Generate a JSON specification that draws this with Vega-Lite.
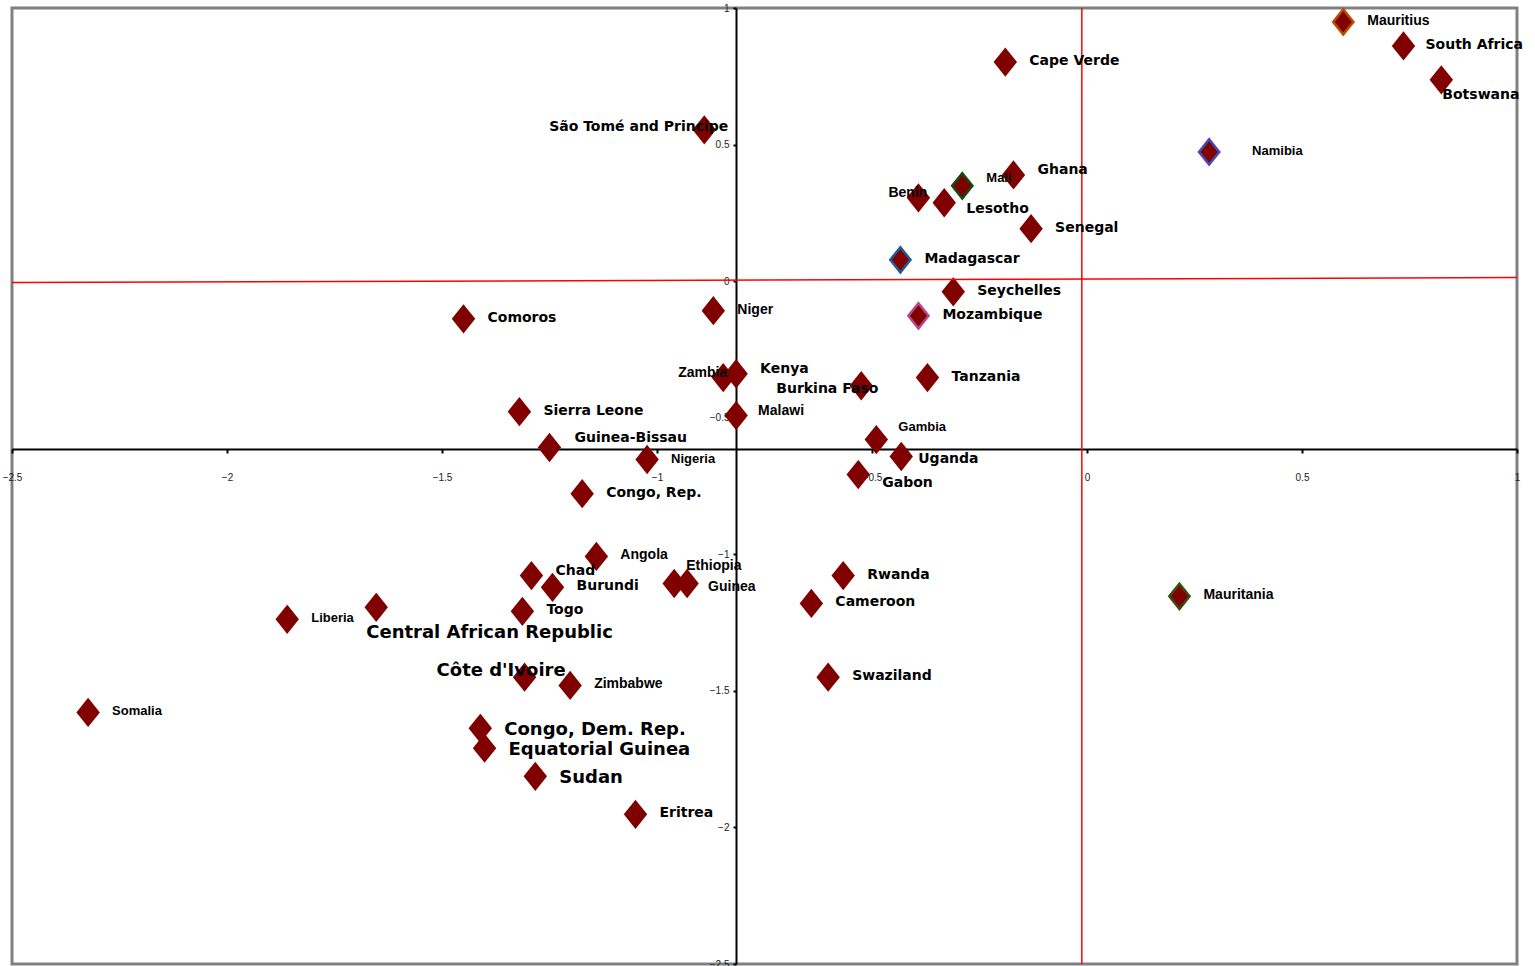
{
  "$schema": "https://vega.github.io/schema/vega-lite/v6.json",
  "autosize": {"type": "none"},
  "padding": {"left": 12, "top": 8, "right": 18, "bottom": 2},
  "width": 1505,
  "height": 956,
  "background": "white",
  "config": {"view": {"stroke": "#808080", "strokeWidth": 3}},
  "datasets": {
    "refs": [
      {"x": -0.012, "y": -2.5, "x2": -0.012, "y2": 1},
      {"x": -2.5, "y": -0.005, "x2": 1, "y2": 0.013}
    ],
    "countries": [
      {"country": "Mauritius", "x": 0.596, "y": 0.949},
      {"country": "South Africa", "x": 0.736, "y": 0.861},
      {"country": "Botswana", "x": 0.824, "y": 0.737},
      {"country": "Cape Verde", "x": -0.19, "y": 0.802},
      {"country": "São Tomé and Principe", "x": -0.89, "y": 0.554},
      {"country": "Namibia", "x": 0.284, "y": 0.473},
      {"country": "Ghana", "x": -0.171, "y": 0.389},
      {"country": "Mali", "x": -0.29, "y": 0.349},
      {"country": "Benin", "x": -0.392, "y": 0.305},
      {"country": "Lesotho", "x": -0.332, "y": 0.287},
      {"country": "Senegal", "x": -0.13, "y": 0.192},
      {"country": "Madagascar", "x": -0.434, "y": 0.078},
      {"country": "Seychelles", "x": -0.311, "y": -0.039},
      {"country": "Mozambique", "x": -0.392, "y": -0.127},
      {"country": "Niger", "x": -0.869, "y": -0.108},
      {"country": "Comoros", "x": -1.45, "y": -0.138},
      {"country": "Zambia", "x": -0.846, "y": -0.353},
      {"country": "Kenya", "x": -0.816, "y": -0.339},
      {"country": "Burkina Faso", "x": -0.525, "y": -0.383},
      {"country": "Tanzania", "x": -0.371, "y": -0.353},
      {"country": "Sierra Leone", "x": -1.32, "y": -0.478},
      {"country": "Malawi", "x": -0.816, "y": -0.492},
      {"country": "Gambia", "x": -0.49, "y": -0.58},
      {"country": "Guinea-Bissau", "x": -1.25, "y": -0.609},
      {"country": "Nigeria", "x": -1.023, "y": -0.653},
      {"country": "Uganda", "x": -0.432, "y": -0.642},
      {"country": "Gabon", "x": -0.532, "y": -0.708},
      {"country": "Congo, Rep.", "x": -1.174, "y": -0.778},
      {"country": "Angola", "x": -1.141, "y": -1.008},
      {"country": "Chad", "x": -1.292, "y": -1.078},
      {"country": "Burundi", "x": -1.243, "y": -1.121},
      {"country": "Ethiopia", "x": -0.96, "y": -1.107},
      {"country": "Guinea", "x": -0.93, "y": -1.107},
      {"country": "Rwanda", "x": -0.567, "y": -1.078},
      {"country": "Cameroon", "x": -0.641, "y": -1.18},
      {"country": "Mauritania", "x": 0.215, "y": -1.154},
      {"country": "Liberia", "x": -1.86, "y": -1.238},
      {"country": "Central African Republic", "x": -1.653, "y": -1.194},
      {"country": "Togo", "x": -1.313, "y": -1.209},
      {"country": "Côte d'Ivoire", "x": -1.308, "y": -1.45},
      {"country": "Zimbabwe", "x": -1.202, "y": -1.48},
      {"country": "Swaziland", "x": -0.602, "y": -1.45},
      {"country": "Somalia", "x": -2.323, "y": -1.579},
      {"country": "Congo, Dem. Rep.", "x": -1.411, "y": -1.637},
      {"country": "Equatorial Guinea", "x": -1.401, "y": -1.71},
      {"country": "Sudan", "x": -1.283, "y": -1.813},
      {"country": "Eritrea", "x": -1.05, "y": -1.952}
    ]
  },
  "layer": [
    {
      "data": {"name": "countries"},
      "mark": {"type": "point", "shape": "M0,-1L0.8,0L0,1L-0.8,0Z", "size": 640, "filled": true, "fill": "#800000", "strokeWidth": 2.5, "opacity": 1},
      "encoding": {
        "x": {"field": "x", "type": "quantitative", "scale": {"domain": [-2.5, 1], "nice": false, "zero": false},
          "axis": {"values": [-2.5, -2, -1.5, -1, -0.5, 0, 0.5, 1], "format": "~g", "offset": -515, "grid": false, "title": null,
            "domainColor": "black", "domainWidth": 2, "tickColor": "black", "tickWidth": 2, "tickSize": 4,
            "labelPadding": 19, "labelFontSize": 10, "labelFont": "Liberation Sans", "labelColor": "#222",
            "labelFlush": false, "labelOverlap": false, "zindex": 0}},
        "y": {"field": "y", "type": "quantitative", "scale": {"domain": [-2.5, 1], "nice": false, "zero": false},
          "axis": {"values": [-2.5, -2, -1.5, -1, -0.5, 0, 0.5, 1], "format": "~g", "offset": -724, "grid": false, "title": null,
            "domainColor": "black", "domainWidth": 2, "tickColor": "black", "tickWidth": 2, "tickSize": 3,
            "labelPadding": 4, "labelFontSize": 10, "labelFont": "Liberation Sans", "labelColor": "#222",
            "labelFlush": false, "labelOverlap": false, "zindex": 0}},
        "stroke": {"condition": [
          {"test": "datum.country === 'Mauritius'", "value": "#b84c00"},
          {"test": "datum.country === 'Namibia'", "value": "#4848b8"},
          {"test": "datum.country === 'Mali'", "value": "#124a12"},
          {"test": "datum.country === 'Madagascar'", "value": "#1f5c99"},
          {"test": "datum.country === 'Mozambique'", "value": "#b8488a"},
          {"test": "datum.country === 'Mauritania'", "value": "#3b4d12"}
        ], "value": "#800000"}
      }
    },
    {
      "data": {"name": "refs"},
      "mark": {"type": "rule", "color": "#ff0000", "strokeWidth": 1.5},
      "encoding": {
        "x": {"field": "x", "type": "quantitative"},
        "y": {"field": "y", "type": "quantitative"},
        "x2": {"field": "x2"},
        "y2": {"field": "y2"}
      }
    },
    {
      "data": {"name": "countries"},
      "encoding": {
        "x": {"field": "x", "type": "quantitative"},
        "y": {"field": "y", "type": "quantitative"},
        "text": {"field": "country"}
      },
      "layer": [
        {
          "transform": [{"filter": {"field": "country", "oneOf": ["Cape Verde", "Senegal", "Madagascar", "Seychelles", "Mozambique", "Comoros", "Tanzania", "Sierra Leone", "Congo, Rep.", "Burundi", "Togo", "Rwanda", "Cameroon", "Swaziland", "Eritrea"]}}],
          "mark": {"type": "text", "align": "left", "baseline": "middle", "dx": 24, "dy": -1, "font": "DejaVu Sans", "fontWeight": "bold", "fontSize": 14, "color": "#000"}
        },
        {
          "transform": [{"filter": {"field": "country", "oneOf": ["South Africa"]}}],
          "mark": {"type": "text", "align": "left", "baseline": "middle", "dx": 22, "dy": -1, "font": "DejaVu Sans", "fontWeight": "bold", "fontSize": 14, "color": "#000"}
        },
        {
          "transform": [{"filter": {"field": "country", "oneOf": ["Chad", "Ghana", "Kenya"]}}],
          "mark": {"type": "text", "align": "left", "baseline": "middle", "dx": 24, "dy": -5, "font": "DejaVu Sans", "fontWeight": "bold", "fontSize": 14, "color": "#000"}
        },
        {
          "transform": [{"filter": {"field": "country", "oneOf": ["Uganda"]}}],
          "mark": {"type": "text", "align": "left", "baseline": "middle", "dx": 17, "dy": 2, "font": "DejaVu Sans", "fontWeight": "bold", "fontSize": 14, "color": "#000"}
        },
        {
          "transform": [{"filter": {"field": "country", "oneOf": ["Gabon"]}}],
          "mark": {"type": "text", "align": "left", "baseline": "middle", "dx": 24, "dy": 8, "font": "DejaVu Sans", "fontWeight": "bold", "fontSize": 14, "color": "#000"}
        },
        {
          "transform": [{"filter": {"field": "country", "oneOf": ["Lesotho"]}}],
          "mark": {"type": "text", "align": "left", "baseline": "middle", "dx": 22, "dy": 6, "font": "DejaVu Sans", "fontWeight": "bold", "fontSize": 14, "color": "#000"}
        },
        {
          "transform": [{"filter": {"field": "country", "oneOf": ["Guinea-Bissau"]}}],
          "mark": {"type": "text", "align": "left", "baseline": "middle", "dx": 25, "dy": -9, "font": "DejaVu Sans", "fontWeight": "bold", "fontSize": 14, "color": "#000"}
        },
        {
          "transform": [{"filter": {"field": "country", "oneOf": ["Burkina Faso"]}}],
          "mark": {"type": "text", "align": "left", "baseline": "middle", "dx": -85, "dy": 3, "font": "DejaVu Sans", "fontWeight": "bold", "fontSize": 14, "color": "#000"}
        },
        {
          "transform": [{"filter": {"field": "country", "oneOf": ["Botswana"]}}],
          "mark": {"type": "text", "align": "left", "baseline": "middle", "dx": 1, "dy": 15, "font": "DejaVu Sans", "fontWeight": "bold", "fontSize": 14, "color": "#000"}
        },
        {
          "transform": [{"filter": {"field": "country", "oneOf": ["São Tomé and Principe"]}}],
          "mark": {"type": "text", "align": "right", "baseline": "middle", "dx": 24, "dy": -3, "font": "DejaVu Sans", "fontWeight": "bold", "fontSize": 14, "color": "#000"}
        },
        {
          "transform": [{"filter": {"field": "country", "oneOf": ["Mauritius", "Angola", "Zimbabwe", "Niger", "Mauritania"]}}],
          "mark": {"type": "text", "align": "left", "baseline": "middle", "dx": 24, "dy": -1, "font": "Liberation Sans", "fontWeight": "bold", "fontSize": 14, "color": "#000"}
        },
        {
          "transform": [{"filter": {"field": "country", "oneOf": ["Guinea"]}}],
          "mark": {"type": "text", "align": "left", "baseline": "middle", "dx": 21, "dy": 3, "font": "Liberation Sans", "fontWeight": "bold", "fontSize": 14, "color": "#000"}
        },
        {
          "transform": [{"filter": {"field": "country", "oneOf": ["Malawi"]}}],
          "mark": {"type": "text", "align": "left", "baseline": "middle", "dx": 22, "dy": -5, "font": "Liberation Sans", "fontWeight": "bold", "fontSize": 14, "color": "#000"}
        },
        {
          "transform": [{"filter": {"field": "country", "oneOf": ["Ethiopia"]}}],
          "mark": {"type": "text", "align": "left", "baseline": "middle", "dx": 12, "dy": -18, "font": "Liberation Sans", "fontWeight": "bold", "fontSize": 14, "color": "#000"}
        },
        {
          "transform": [{"filter": {"field": "country", "oneOf": ["Benin"]}}],
          "mark": {"type": "text", "align": "left", "baseline": "middle", "dx": -30, "dy": -5, "font": "Liberation Sans", "fontWeight": "bold", "fontSize": 14, "color": "#000"}
        },
        {
          "transform": [{"filter": {"field": "country", "oneOf": ["Zambia"]}}],
          "mark": {"type": "text", "align": "left", "baseline": "middle", "dx": -45, "dy": -5, "font": "Liberation Sans", "fontWeight": "bold", "fontSize": 14, "color": "#000"}
        },
        {
          "transform": [{"filter": {"field": "country", "oneOf": ["Nigeria", "Somalia", "Liberia"]}}],
          "mark": {"type": "text", "align": "left", "baseline": "middle", "dx": 24, "dy": -1, "font": "Liberation Sans", "fontWeight": "bold", "fontSize": 13, "color": "#000"}
        },
        {
          "transform": [{"filter": {"field": "country", "oneOf": ["Namibia"]}}],
          "mark": {"type": "text", "align": "left", "baseline": "middle", "dx": 43, "dy": -1, "font": "Liberation Sans", "fontWeight": "bold", "fontSize": 13, "color": "#000"}
        },
        {
          "transform": [{"filter": {"field": "country", "oneOf": ["Mali"]}}],
          "mark": {"type": "text", "align": "left", "baseline": "middle", "dx": 24, "dy": -8, "font": "Liberation Sans", "fontWeight": "bold", "fontSize": 13, "color": "#000"}
        },
        {
          "transform": [{"filter": {"field": "country", "oneOf": ["Gambia"]}}],
          "mark": {"type": "text", "align": "left", "baseline": "middle", "dx": 22, "dy": -13, "font": "Liberation Sans", "fontWeight": "bold", "fontSize": 13, "color": "#000"}
        },
        {
          "transform": [{"filter": {"field": "country", "oneOf": ["Congo, Dem. Rep.", "Equatorial Guinea", "Sudan"]}}],
          "mark": {"type": "text", "align": "left", "baseline": "middle", "dx": 24, "dy": 2, "font": "DejaVu Sans", "fontWeight": "bold", "fontSize": 18, "color": "#000"}
        },
        {
          "transform": [{"filter": {"field": "country", "oneOf": ["Central African Republic"]}}],
          "mark": {"type": "text", "align": "left", "baseline": "middle", "dx": -10, "dy": 26, "font": "DejaVu Sans", "fontWeight": "bold", "fontSize": 18, "color": "#000"}
        },
        {
          "transform": [{"filter": {"field": "country", "oneOf": ["Côte d'Ivoire"]}}],
          "mark": {"type": "text", "align": "left", "baseline": "middle", "dx": -88, "dy": -6, "font": "DejaVu Sans", "fontWeight": "bold", "fontSize": 18, "color": "#000"}
        }
      ]
    }
  ]
}
